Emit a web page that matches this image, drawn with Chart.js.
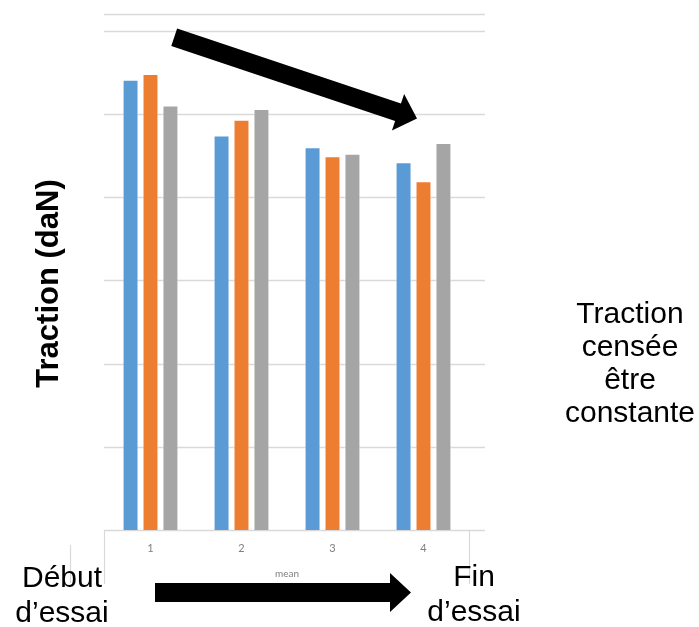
<!DOCTYPE html>
<html lang="fr">
<head>
<meta charset="utf-8">
<title>Traction (daN)</title>
<script src="https://cdn.jsdelivr.net/npm/chart.js@4.4.1/dist/chart.umd.min.js"></script>
<style>
  html, body { margin: 0; padding: 0; background: #ffffff; }
  canvas { display: block; }
</style>
</head>
<body>
<canvas id="traction" width="699" height="627"></canvas>
<script>
// Essais (abscisse) et trois séries de mesures de traction
const categories = ['1', '2', '3', '4'];
const serieBleue = [5.41, 4.74, 4.60, 4.42];
const serieOrange = [5.48, 4.93, 4.49, 4.19];
const serieGrise = [5.10, 5.06, 4.52, 4.65];
const yMin = 0;
const yMax = 6.2;
const yStep = 1;

const GRID = '#d9d9d9';
const TEXT_FONT = '"Liberation Sans", Arial, sans-serif';

function arrow(ctx, x0, y0, x1, y1, shaftHalf, headHalf, headLen) {
  const dx = x1 - x0, dy = y1 - y0;
  const len = Math.hypot(dx, dy);
  const ux = dx / len, uy = dy / len;
  const px = -uy, py = ux;
  const bx = x1 - ux * headLen, by = y1 - uy * headLen;
  ctx.beginPath();
  ctx.moveTo(x0 + px * shaftHalf, y0 + py * shaftHalf);
  ctx.lineTo(bx + px * shaftHalf, by + py * shaftHalf);
  ctx.lineTo(bx + px * headHalf, by + py * headHalf);
  ctx.lineTo(x1, y1);
  ctx.lineTo(bx - px * headHalf, by - py * headHalf);
  ctx.lineTo(bx - px * shaftHalf, by - py * shaftHalf);
  ctx.lineTo(x0 - px * shaftHalf, y0 - py * shaftHalf);
  ctx.closePath();
  ctx.fill();
}

function lines(ctx, arr, x, yFirst, step) {
  arr.forEach((t, i) => ctx.fillText(t, x, yFirst + i * step));
}

// Quadrillage horizontal prolongé au-delà du dernier essai
const gridPlugin = {
  id: 'gridPlugin',
  beforeDatasetsDraw(chart) {
    const { ctx, chartArea, scales } = chart;
    const y = scales.y;
    const values = y.ticks.map(t => t.value);
    if (!values.includes(yMax)) values.push(yMax);
    ctx.save();
    ctx.strokeStyle = GRID;
    ctx.lineWidth = 1.3;
    values.forEach(v => {
      const py = Math.round(y.getPixelForValue(v)) + 0.5;
      ctx.beginPath();
      ctx.moveTo(chartArea.left - 1, py);
      ctx.lineTo(chartArea.right + 16, py);
      ctx.stroke();
    });
    // repères verticaux aux bornes de l'axe des essais
    const base = Math.round(y.getPixelForValue(yMin));
    ctx.lineWidth = 1.2;
    [chartArea.left - 0.5, chartArea.right + 0.5].forEach(px => {
      ctx.beginPath();
      ctx.moveTo(px, base);
      ctx.lineTo(px, base + 54);
      ctx.stroke();
    });
    ctx.beginPath();
    ctx.moveTo(70.5, base + 15);
    ctx.lineTo(70.5, base + 53);
    ctx.stroke();
    ctx.restore();
  }
};

// Annotations : titres, flèches et commentaires
const annotationPlugin = {
  id: 'annotationPlugin',
  afterDraw(chart) {
    const { ctx, chartArea } = chart;
    ctx.save();
    ctx.fillStyle = '#000000';

    // titre de l'axe vertical
    ctx.save();
    ctx.translate(58, 283.5);
    ctx.rotate(-Math.PI / 2);
    ctx.font = 'bold 31px ' + TEXT_FONT;
    ctx.textAlign = 'center';
    ctx.textBaseline = 'alphabetic';
    ctx.fillText('Traction (daN)', 0, 0);
    ctx.restore();

    // titre de l'axe horizontal
    ctx.font = '10px Lato, "Liberation Sans", sans-serif';
    ctx.fillStyle = '#7f7f7f';
    ctx.textAlign = 'center';
    ctx.textBaseline = 'middle';
    ctx.fillText('mean', (chartArea.left + chartArea.right) / 2, 574);

    ctx.fillStyle = '#000000';
    ctx.font = '30px ' + TEXT_FONT;
    ctx.textBaseline = 'alphabetic';
    lines(ctx, ['Début', 'd\u2019essai'], 62, 587, 35);
    lines(ctx, ['Fin', 'd\u2019essai'], 474, 586, 35);
    lines(ctx, ['Traction', 'censée', 'être', 'constante'], 630, 323, 33);

    // flèches
    arrow(ctx, 174.2, 37.2, 417, 118.6, 9.2, 19.2, 20);
    arrow(ctx, 155, 592.5, 411, 592.5, 9.5, 19.5, 21);
    ctx.restore();
  }
};

new Chart(document.getElementById('traction'), {
  type: 'bar',
  data: {
    labels: categories,
    datasets: [
      { data: serieBleue, backgroundColor: '#5b9bd5' },
      { data: serieOrange, backgroundColor: '#ed7d31' },
      { data: serieGrise, backgroundColor: '#a5a5a5' }
    ].map(d => Object.assign(d, {
      borderColor: 'rgba(255,255,255,0.55)',
      borderWidth: 1,
      categoryPercentage: 0.6575,
      barPercentage: 0.8
    }))
  },
  options: {
    responsive: false,
    animation: false,
    events: [],
    layout: { padding: { left: 105, right: 230, top: 14, bottom: 0 } },
    plugins: { legend: { display: false }, tooltip: { enabled: false } },
    scales: {
      x: {
        type: 'category',
        grid: { display: false, drawTicks: false },
        border: { display: false },
        ticks: {
          color: '#7f7f7f',
          font: { family: 'Lato, "Liberation Sans", sans-serif', size: 11 },
          padding: 12,
          maxRotation: 0
        },
        afterFit(scale) { scale.height = 97; }
      },
      y: {
        min: yMin,
        max: yMax,
        grid: { display: false, drawTicks: false },
        border: { display: false },
        ticks: { display: false, stepSize: yStep },
        afterFit(scale) { scale.width = 0; }
      }
    }
  },
  plugins: [gridPlugin, annotationPlugin]
});
</script>
</body>
</html>
